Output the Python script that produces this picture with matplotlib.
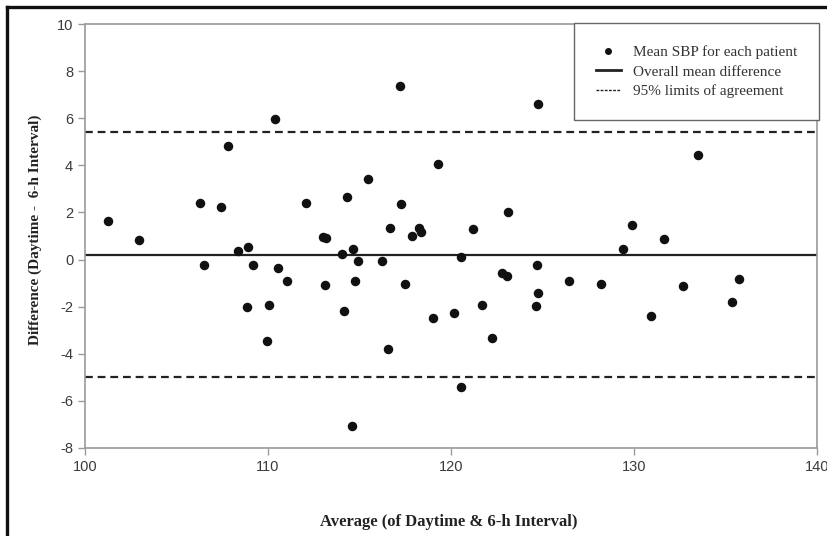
import numpy as np
import matplotlib
matplotlib.use("Agg")
from matplotlib import pyplot as plt
from matplotlib.lines import Line2D

plt.rcParams['axes.unicode_minus'] = False

# Bland-Altman data
avg_sbp = [101.27, 102.95, 106.28, 106.52, 107.43, 107.83, 108.34, 108.83, 108.93, 109.20,
           109.93, 110.05, 110.38, 110.56, 111.02, 112.06, 113.00, 113.15, 113.11, 114.06,
           114.15, 114.30, 114.57, 114.66, 114.75, 114.90, 115.48, 116.21, 116.54, 116.67,
           117.21, 117.27, 117.49, 117.85, 118.27, 118.34, 119.03, 119.31, 120.18, 120.55,
           120.55, 121.22, 121.71, 122.26, 122.77, 123.08, 123.10, 124.64, 124.72, 124.74,
           124.77, 126.46, 128.20, 129.42, 129.91, 130.91, 131.66, 132.70, 133.51, 135.34,
           135.75]
diff_sbp = [1.65, 0.81, 2.42, -0.24, 2.25, 4.82, 0.38, -2.02, 0.52, -0.22,
            -3.45, -1.92, 5.96, -0.36, -0.90, 2.41, 0.95, 0.92, -1.10, 0.23,
            -2.18, 2.65, -7.08, 0.45, -0.90, -0.05, 3.41, -0.05, -3.79, 1.32,
            7.37, 2.36, -1.03, 0.99, 1.36, 1.16, -2.47, 4.06, -2.25, 0.10,
            -5.43, 1.29, -1.95, -3.34, -0.58, -0.68, 2.02, -1.99, -0.22, -1.43,
            6.61, -0.90, -1.03, 0.44, 1.47, -2.39, 0.86, -1.14, 4.44, -1.82,
            -0.83]
mean_diff = 0.2
upper_loa = 5.4
lower_loa = -5.0

x_ticks = [100, 110, 120, 130, 140]
y_ticks = [-8, -6, -4, -2, 0, 2, 4, 6, 8, 10]

fig = plt.figure(figsize=(8.28, 5.36), dpi=100)
ax = fig.add_axes([0.1027, 0.1642, 0.884, 0.791])

ax.scatter(avg_sbp, diff_sbp, s=34, color='#111111', zorder=3)
ax.axhline(mean_diff, color='#222222', lw=1.6, zorder=2)
for v in (upper_loa, lower_loa):
    ax.axhline(v, color='#222222', lw=1.6, ls=(0, (3.5, 2.2)), zorder=2)

ax.set_xlim(100, 140)
ax.set_ylim(-8, 10)
ax.set_xticks(x_ticks)
ax.set_yticks(y_ticks)

# Grey frame, outward ticks
for s in ['top', 'bottom', 'left', 'right']:
    ax.spines[s].set_color('#9a9a9a')
    ax.spines[s].set_linewidth(1.2)
ax.tick_params(direction='out', length=5, width=1, color='#9a9a9a',
               labelsize=10.5, labelcolor='#3a3a3a')
for lab in ax.get_xticklabels() + ax.get_yticklabels():
    lab.set_family('Liberation Sans')

ax.set_xlabel('Average (of Daytime & 6-h Interval)', family='Liberation Serif',
              fontweight='bold', fontsize=12, color='#222222')
ax.set_ylabel('Difference (Daytime -  6-h Interval)', family='Liberation Serif',
              fontweight='bold', fontsize=11, color='#222222')
ax.xaxis.set_label_coords(0.497, -0.155)
ax.yaxis.set_label_coords(-0.059, 0.514)

handles = [
    Line2D([], [], ls='none', marker='o', ms=4, color='#111111'),
    Line2D([], [], color='#222222', lw=2),
    Line2D([], [], color='#222222', lw=1, ls=(0, (2, 1))),
]
labels = ['Mean SBP for each patient', 'Overall mean difference', '95% limits of agreement']
leg = ax.legend(handles, labels, loc='upper right', bbox_to_anchor=(1.003, 1.002),
                borderaxespad=0, fancybox=False, framealpha=1, edgecolor='#666666',
                prop={'family': 'Liberation Serif', 'size': 11},
                handlelength=1.6, handletextpad=0.8, labelspacing=0.38,
                borderpad=1.45)
leg.get_frame().set_linewidth(1.0)
for t in leg.get_texts():
    t.set_color('#333333')

# Outer picture border (left and top edges visible)
fig.add_artist(Line2D([7 / 828, 7 / 828], [0, 1 - 7 / 536], transform=fig.transFigure,
                      color='#111111', lw=2.4))
fig.add_artist(Line2D([7 / 828, 1], [1 - 7 / 536, 1 - 7 / 536], transform=fig.transFigure,
                      color='#111111', lw=2.4))

fig.savefig('out.png', dpi=100)
